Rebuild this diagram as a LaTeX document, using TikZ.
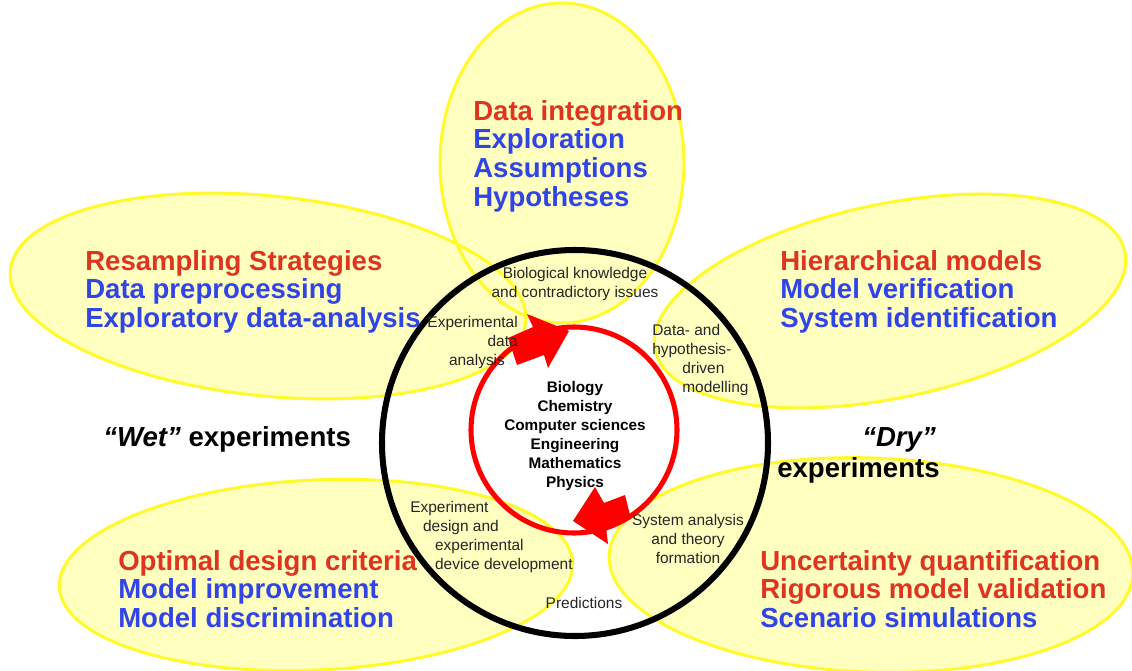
\documentclass[tikz,border=0pt]{standalone}
\usepackage{fontspec}
\setmainfont{Liberation Sans}
\definecolor{petalfill}{RGB}{255,255,192}
\definecolor{petalrim}{RGB}{255,250,40}
\definecolor{hired}{RGB}{222,52,32}
\definecolor{hiblue}{RGB}{48,68,232}

\begin{document}
\begin{tikzpicture}[x=0.025cm, y=-0.025cm,
    petal/.style={fill=petalfill},
    rim/.style={draw=petalrim, line width=2.1pt},
    bigtxt/.style={font=\fontsize{19.6}{20.4}\selectfont\bfseries, inner sep=0pt, anchor=north west, align=left, text=hiblue},
    smalltxt/.style={font=\fontsize{11}{13.5}\selectfont, inner sep=0pt, text=black!85},
    hubtxt/.style={font=\fontsize{10.9}{13.5}\selectfont\bfseries, inner sep=0pt, anchor=north, align=center}]
    \useasboundingbox (0,0) rectangle (1132,671);
    \clip (0,0) rectangle (1132,671);

    % the five petals: fills first, rims on top
    \foreach \cx/\cy/\rx/\ry/\ang in {562/163/122/160/0, 268/296/259/100/-5.8, 890/301/240/97/11.8, 316/575/257/95/2.7, 871/565/262/107/-2}
        \path[petal, rotate around={\ang:(\cx,\cy)}] (\cx,\cy) ellipse [x radius=\rx, y radius=\ry];
    \foreach \cx/\cy/\rx/\ry/\ang in {562/163/122/160/0, 268/296/259/100/-5.8, 890/301/240/97/11.8, 316/575/257/95/2.7, 871/565/262/107/-2}
        \path[rim, rotate around={\ang:(\cx,\cy)}] (\cx,\cy) ellipse [x radius=\rx, y radius=\ry];

    % cycle
    \draw[line width=4.3pt] (575,443) circle [radius=193];
    \draw[red, line width=3.6pt] (574,430) circle [radius=103];
    \fill[red] (508,338) -- (533,327) -- (527,314) -- (569,331) -- (548,368) -- (544,355) -- (517,365) -- cycle;
    \fill[red] (625,495) -- (631,519) -- (606,527) -- (608,544) -- (573,521) -- (595,487) -- (604,503) -- cycle;

    % petal texts
    \node[bigtxt] (integ) at (473,100) {{\color{hired}Data integration}\\Exploration\\Assumptions\\Hypotheses};
    \node[bigtxt] (resamp) at (85,250) {{\color{hired}Resampling Strategies}\\Data preprocessing\\Exploratory data-analysis};
    \node[bigtxt] (hier) at (780,250) {{\color{hired}Hierarchical models}\\Model verification\\System identification};
    \node[bigtxt] (optim) at (118,550) {{\color{hired}Optimal design criteria}\\Model improvement\\Model discrimination};
    \node[bigtxt] (uncert) at (760,550) {{\color{hired}Uncertainty quantification}\\{\color{hired}Rigorous model validation}\\Scenario simulations};

    \node[bigtxt, text=black] (wet) at (103,426) {\itshape “Wet”\upshape{} experiments};
    \node[bigtxt, text=black] (dry) at (862,427) {\itshape “Dry”};
    \node[bigtxt, text=black] (dryexp) at (777,457) {experiments};

    % ring texts
    \node[smalltxt, anchor=north, align=center] (bioknow) at (575,267) {Biological knowledge\\and contradictory issues};
    \node[smalltxt, anchor=north east, align=right] (expdata) at (518,316) {Experimental\\data\hspace*{0.27cm}\\analysis\hspace*{0.32cm}};
    \node[smalltxt, anchor=north west, align=left] (datadriven) at (652,324) {Data- and\\hypothesis-\\\hspace*{0.75cm}driven\\\hspace*{0.75cm}modelling};
    \node[smalltxt, anchor=north west, align=left] (expdesign) at (410,501) {Experiment\\\hspace*{0.32cm}design and\\\hspace*{0.62cm}experimental\\\hspace*{0.62cm}device development};
    \node[smalltxt, anchor=north, align=center] (sysana) at (688,514) {System analysis\\and theory\\formation};
    \node[smalltxt, anchor=north] (predict) at (584,597) {Predictions};

    \node[hubtxt] (hub) at (575,381) {Biology\\Chemistry\\Computer sciences\\Engineering\\Mathematics\\Physics};
\end{tikzpicture}
\end{document}
